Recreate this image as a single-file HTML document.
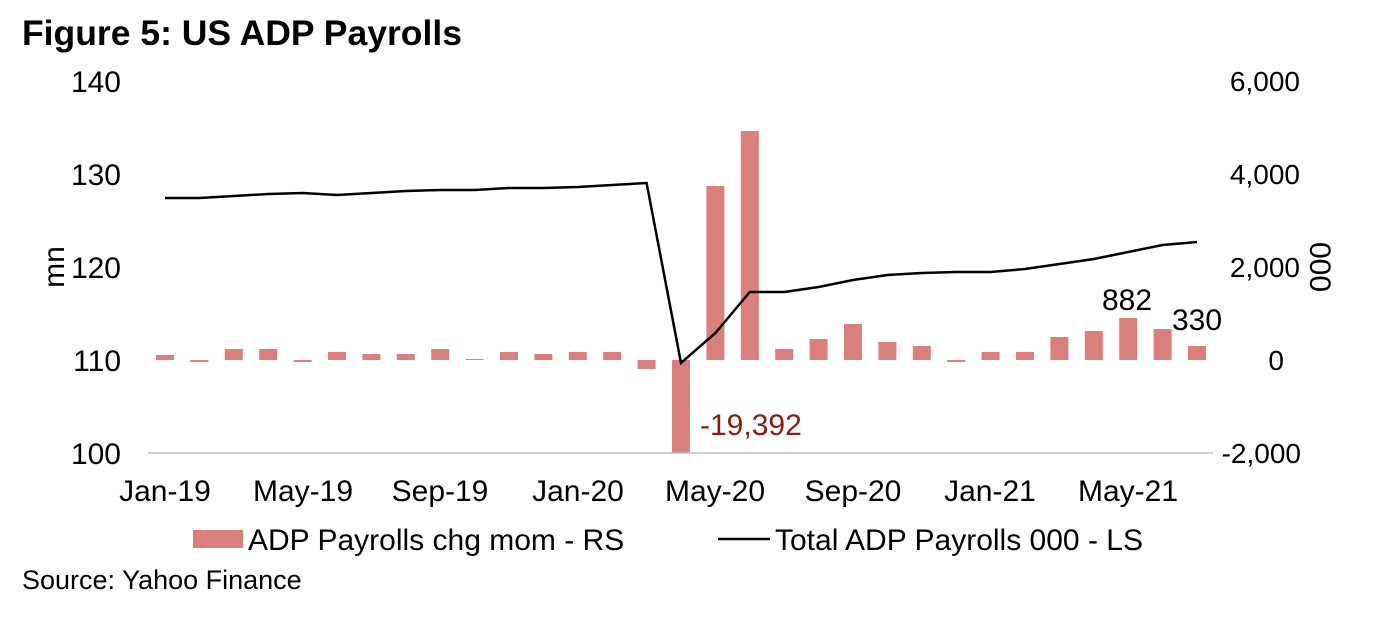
<!DOCTYPE html>
<html><head><meta charset="utf-8"><style>
body{margin:0;background:#fff;width:1399px;height:628px;overflow:hidden}
svg text{font-family:"Liberation Sans",Arial,sans-serif}
</style></head><body>
<svg width="1399" height="628" viewBox="0 0 1399 628">
<text x="22" y="45" font-size="35.5" font-weight="bold" fill="#000">Figure 5: US ADP Payrolls</text>
<g font-size="30" fill="#000" text-anchor="end">
<text x="121" y="92">140</text><text x="121" y="185">130</text><text x="121" y="278">120</text><text x="121" y="371">110</text><text x="121" y="464">100</text>
</g>
<g font-size="28" fill="#000" text-anchor="end">
<text x="1300" y="91">6,000</text><text x="1300" y="184">4,000</text><text x="1300" y="277">2,000</text><text x="1284" y="370">0</text><text x="1301" y="463">-2,000</text>
</g>
<text transform="translate(64,267) rotate(-90)" font-size="30" text-anchor="middle">mn</text>
<text transform="translate(1310,267) rotate(90)" font-size="30" text-anchor="middle">000</text>
<g fill="#d9807c" id="bars"></g>
<line x1="148" y1="453" x2="1213" y2="453" stroke="#bfbfbf" stroke-width="1.5"/>
<polyline id="ln" fill="none" stroke="#000" stroke-width="2.5"/>
<g font-size="30" text-anchor="middle">
<text x="165" y="501">Jan-19</text><text x="303" y="501">May-19</text><text x="440" y="501">Sep-19</text><text x="578" y="501">Jan-20</text><text x="715" y="501">May-20</text><text x="853" y="501">Sep-20</text><text x="990" y="501">Jan-21</text><text x="1128" y="501">May-21</text>
</g>
<text x="700" y="435" font-size="30" fill="#8b1a10">-19,392</text>
<text x="1127" y="310" font-size="30" text-anchor="middle">882</text>
<text x="1197" y="330" font-size="30" text-anchor="middle">330</text>
<rect x="193" y="530" width="50" height="18" fill="#d9807c"/>
<text x="248" y="550" font-size="30">ADP Payrolls chg mom - RS</text>
<line x1="718" y1="539" x2="770" y2="539" stroke="#000" stroke-width="2.5"/>
<text x="775" y="550" font-size="30">Total ADP Payrolls 000 - LS</text>
<text x="22" y="589" font-size="27">Source: Yahoo Finance</text>
</svg>
<script>
var tops=[355,362,349,349,362,352,354,354,349,359,352,354,352,352,369,453,186,131,349,339,324,342,346,362,352,352,337,331,318,329,346];
var ly=[198,198,196,194,193,195,193,191,190,190,188,188,187,185,183,363,333,292,292,287,280,275,273,272,272,269,264,259,252,245,242];
var g=document.getElementById('bars'),pts=[];
for(var i=0;i<31;i++){var x=165+i*34.4;var t=tops[i];var y=Math.min(t,360),h=Math.abs(t-360);
var r=document.createElementNS('http://www.w3.org/2000/svg','rect');r.setAttribute('x',x-9);r.setAttribute('y',y);r.setAttribute('width',18);r.setAttribute('height',Math.max(h,1));g.appendChild(r);
pts.push(x+','+ly[i]);}
document.getElementById('ln').setAttribute('points',pts.join(' '));
</script>
</body></html>
